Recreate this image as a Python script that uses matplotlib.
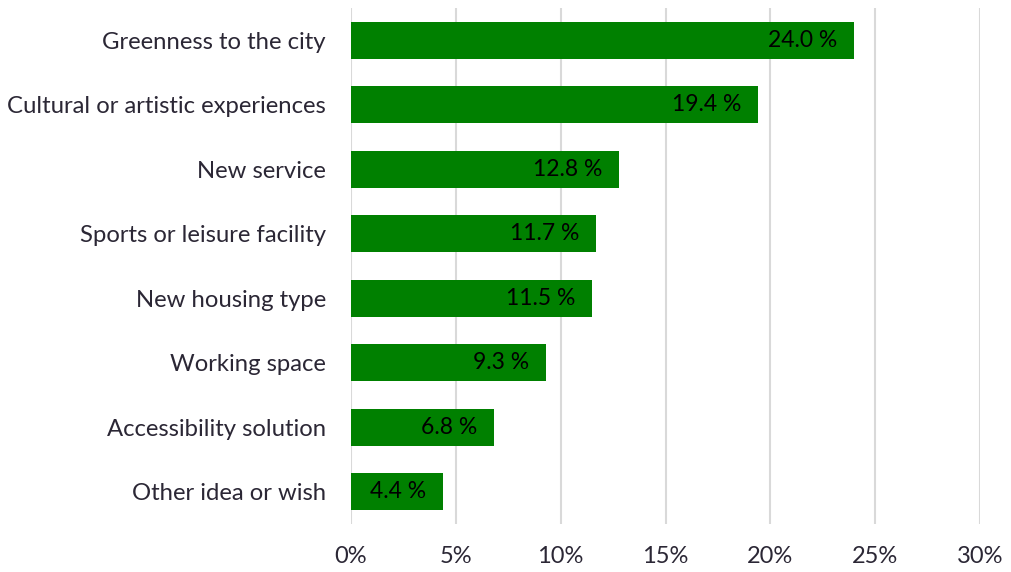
import matplotlib.pyplot as plt
import numpy as np

categories = ["Greenness to the city", "Cultural or artistic experiences", "New service",
              "Sports or leisure facility", "New housing type", "Working space",
              "Accessibility solution", "Other idea or wish"]
values = [24.0, 19.4, 12.8, 11.7, 11.5, 9.3, 6.8, 4.4]
ticks = [0, 5, 10, 15, 20, 25, 30]

plt.rcParams['font.family'] = ['Lato', 'DejaVu Sans']
txt = '#2b2735'

fig = plt.figure(figsize=(10.12, 5.72), dpi=100)
ax = fig.add_axes([351 / 1012, 1 - 524 / 572, (980 - 351) / 1012, 516 / 572])

y = np.arange(len(categories))
ax.barh(y, values, height=0.57, color='#008000', zorder=3)
for yi, v in zip(y, values):
    ax.annotate(f"{v:.1f} %", (v, yi), xytext=(-12, 0), textcoords='offset points',
                ha='right', va='center', fontsize=16.5, color='black', zorder=4)

ax.set_xlim(0, 30)
ax.set_ylim(len(categories) - 0.5, -0.5)
ax.set_xticks(ticks)
ax.set_xticklabels([f"{t}%" for t in ticks], fontsize=17, color=txt)
ax.set_yticks(y)
ax.set_yticklabels(categories, fontsize=17.2, color=txt)
ax.tick_params(axis='x', length=0, pad=16)
ax.tick_params(axis='y', length=0, pad=18)
ax.grid(axis='x', color='#d9d9d9', linewidth=1.5, zorder=0)
for s in ax.spines.values():
    s.set_visible(False)

fig.savefig('out.png', dpi=100)
